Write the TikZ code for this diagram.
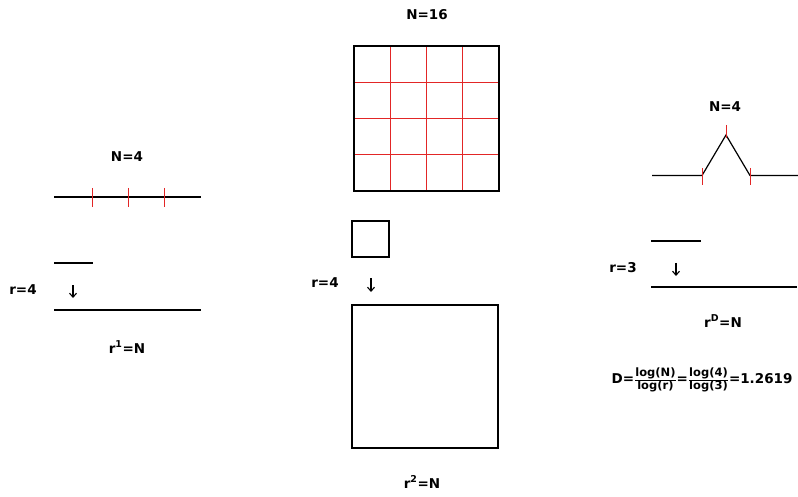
\documentclass[tikz,border=0pt]{standalone}
\usepackage{amsmath}
\usepackage{fontspec}
\setmainfont{DejaVu Sans}
\usetikzlibrary{arrows.meta}
\definecolor{myred}{RGB}{226,38,38}
\tikzset{
  seg/.style={black,line width=1.2pt},
  tick/.style={myred,line width=1pt},
  lbl/.style={font=\fontsize{13.5}{16}\selectfont\bfseries,inner sep=0pt},
  down/.style={-{Straight Barb[length=4,width=7]},line width=1.1pt}
}
\newcommand{\fracpart}[1]{\text{\fontsize{11.5}{12}\selectfont\bfseries #1}}

\begin{document}
\begin{tikzpicture}[x=1pt,y=-1pt]
  \useasboundingbox (0,0) rectangle (798,497);

  % Line, r=4
  \node[lbl] (nline) at (127,157) {N=4};
  \draw[seg] (54,197) -- (201,197);
  \foreach \x in {92,128,164} \draw[tick] (\x,188) -- (\x,207);
  \draw[seg] (54,263) -- (93,263);
  \coordinate (la) at (73,285);
  \coordinate (lb) at (73,298);
  \draw[down] (la) -- (lb);
  \node[lbl] (rline) at (23,290) {r=4};
  \draw[seg] (54,310) -- (201,310);
  \node[lbl] (eline) at (127,347) {r\textsuperscript{1}=N};

  % Square, r=4
  \node[lbl] (nsq) at (427,15) {N=16};
  \foreach \t in {1,2,3} {
    \draw[tick] (354+36.25*\t,46) -- (354+36.25*\t,191);
    \draw[tick] (354,46+36.25*\t) -- (499,46+36.25*\t);
  }
  \draw[seg] (354,46) rectangle (499,191);
  \draw[seg] (352,221) rectangle (389,257);
  \coordinate (sa) at (371,278);
  \coordinate (sb) at (371,292);
  \draw[down] (sa) -- (sb);
  \node[lbl] (rsq) at (325,283) {r=4};
  \draw[seg] (352,305) rectangle (498,448);
  \node[lbl] (esq) at (422,482) {r\textsuperscript{2}=N};

  % Koch curve, r=3
  \node[lbl] (nkoch) at (725,107) {N=4};
  \draw[seg] (652,175.5) -- (702,175.5) -- (726,135) -- (750,175.5) -- (798,175.5);
  \draw[tick] (702,168) -- (702,185);
  \draw[tick] (750,168) -- (750,185);
  \draw[tick] (726,125) -- (726,138);
  \draw[seg] (651,241) -- (701,241);
  \coordinate (ka) at (676,263);
  \coordinate (kb) at (676,276);
  \draw[down] (ka) -- (kb);
  \node[lbl] (rkoch) at (623,268) {r=3};
  \draw[seg] (651,287) -- (797,287);
  \node[lbl] (ekoch) at (723,321) {r\textsuperscript{D}=N};

  % Dimension
  \node[lbl] (dim) at (702,380)
    {D=$\frac{\fracpart{log(N)}}{\fracpart{log(r)}}$=$\frac{\fracpart{log(4)}}{\fracpart{log(3)}}$=1.2619};
\end{tikzpicture}
\end{document}
